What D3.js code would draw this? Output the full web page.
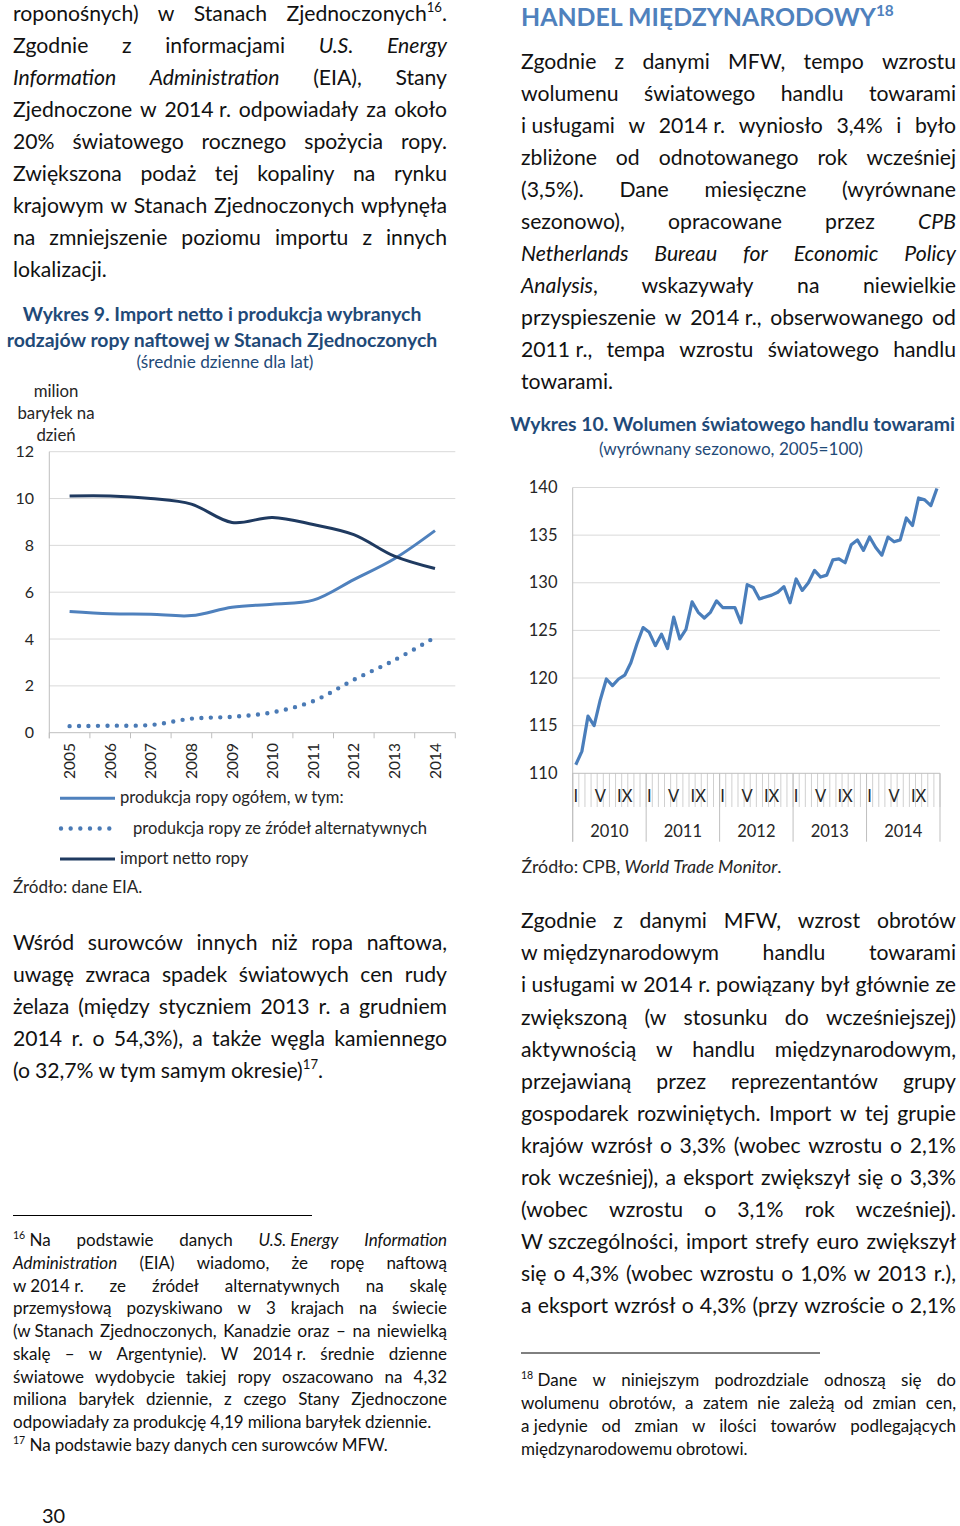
<!DOCTYPE html>
<html><head><meta charset="utf-8">
<script src="https://cdn.jsdelivr.net/npm/d3@7"></script>
<style>
body{margin:0;background:#fff}
svg{display:block}
text{font-family:Lato,"Open Sans",sans-serif}
</style></head><body>
<svg id="page" width="960" height="1526"></svg>
<script>
// ---------------- DATA ----------------
const oilYears = ["2005","2006","2007","2008","2009","2010","2011","2012","2013","2014"];
const oilProductionTotal = [5.18,5.08,5.06,5.00,5.36,5.49,5.66,6.54,7.43,8.63];
const oilProductionAlt   = [0.28,0.30,0.33,0.60,0.68,0.87,1.35,2.26,3.10,4.07];
const oilImportNet       = [10.11,10.11,10.00,9.76,8.98,9.19,8.89,8.46,7.54,7.01];
const oilTicks = [0,2,4,6,8,10,12];
const oilLegend = ["produkcja ropy ogółem, w tym:","produkcja ropy ze źródeł alternatywnych","import netto ropy"];

const tradeYears = ["2010","2011","2012","2013","2014"];
const tradeMonthLabels = ["I","V","IX"];
const tradeMonthLabelIdx = [0,4,8];
const trade2010 = [110.9,112.3,116.0,115.0,117.7,119.9,119.2,119.9,120.3,121.6,123.6,125.3];
const trade2011 = [124.8,123.4,124.6,123.1,126.4,124.1,125.1,128.0,126.9,126.3,126.9,128.1];
const trade2012 = [127.4,127.4,127.4,125.8,129.8,129.5,128.3,128.5,128.7,129.0,129.6,127.9];
const trade2013 = [130.4,129.2,130.0,131.3,130.6,130.8,132.4,132.5,132.1,134.0,134.5,133.4];
const trade2014 = [134.8,133.7,132.9,134.8,134.3,134.5,136.8,136.0,138.9,138.7,138.1,139.9];
const tradeTicks = [110,115,120,125,130,135,140];

// ---------------- TEXT ----------------
const paraL1 = [
 "roponośnych) w Stanach Zjednoczonych^16^.",
 "Zgodnie z informacjami *U.S.* *Energy*",
 "*Information* *Administration* (EIA), Stany",
 "Zjednoczone w 2014~r. odpowiadały za około",
 "20% światowego rocznego spożycia ropy.",
 "Zwiększona podaż tej kopaliny na rynku",
 "krajowym w Stanach Zjednoczonych wpłynęła",
 "na zmniejszenie poziomu importu z innych",
 "lokalizacji."
];
const paraL2 = [
 "Wśród surowców innych niż ropa naftowa,",
 "uwagę zwraca spadek światowych cen rudy",
 "żelaza (między styczniem 2013 r. a grudniem",
 "2014 r. o 54,3%), a także węgla kamiennego",
 "(o 32,7% w tym samym okresie)^17^."
];
const footL = [
 "^16^~Na podstawie danych *U.S.~Energy* *Information*",
 "*Administration* (EIA) wiadomo, że ropę naftową",
 "w~2014~r. ze źródeł alternatywnych na skalę",
 "przemysłową pozyskiwano w 3 krajach na świecie",
 "(w~Stanach Zjednoczonych, Kanadzie oraz – na niewielką",
 "skalę – w Argentynie). W 2014~r. średnie dzienne",
 "światowe wydobycie takiej ropy oszacowano na 4,32",
 "miliona baryłek dziennie, z czego Stany Zjednoczone",
 "odpowiadały za produkcję 4,19 miliona baryłek dziennie."
];
const footL17 = "^17^~Na podstawie bazy danych cen surowców MFW.";
const paraR1 = [
 "Zgodnie z danymi MFW, tempo wzrostu",
 "wolumenu światowego handlu towarami",
 "i~usługami w 2014~r. wyniosło 3,4% i było",
 "zbliżone od odnotowanego rok wcześniej",
 "(3,5%). Dane miesięczne (wyrównane",
 "sezonowo), opracowane przez *CPB*",
 "*Netherlands* *Bureau* *for* *Economic* *Policy*",
 "*Analysis*, wskazywały na niewielkie",
 "przyspieszenie w 2014~r., obserwowanego od",
 "2011~r., tempa wzrostu światowego handlu",
 "towarami."
];
const paraR2 = [
 "Zgodnie z danymi MFW, wzrost obrotów",
 "w~międzynarodowym handlu towarami",
 "i~usługami w 2014 r. powiązany był głównie ze",
 "zwiększoną (w stosunku do wcześniejszej)",
 "aktywnością w handlu międzynarodowym,",
 "przejawianą przez reprezentantów grupy",
 "gospodarek rozwiniętych. Import w tej grupie",
 "krajów wzrósł o 3,3% (wobec wzrostu o 2,1%",
 "rok wcześniej), a eksport zwiększył się o 3,3%",
 "(wobec wzrostu o 3,1% rok wcześniej).",
 "W~szczególności, import strefy euro zwiększył",
 "się o 4,3% (wobec wzrostu o 1,0% w 2013 r.),",
 "a eksport wzrósł o 4,3% (przy wzroście o 2,1%"
];
const footR = [
 "^18^~Dane w niniejszym podrozdziale odnoszą się do",
 "wolumenu obrotów, a zatem nie zależą od zmian cen,",
 "a~jedynie od zmian w ilości towarów podlegających",
 "międzynarodowemu obrotowi."
];

// ---------------- HELPERS ----------------
const svg = d3.select("#page");
const TXT = "#111";
function segs(token){
  const out=[]; let cur="", it=false, sup=false;
  for(const ch of token){
    if(ch==="*"||ch==="^"){ if(cur) out.push({t:cur,it,sup}); cur=""; if(ch==="*") it=!it; else sup=!sup; }
    else cur += (ch==="~" ? "\u00a0" : ch);
  }
  if(cur) out.push({t:cur,it,sup});
  return out;
}
function drawToken(g, token, y, size, fill, weight){
  const t = g.append("text").attr("y",y).attr("font-size",size).attr("fill",fill||TXT);
  if(weight) t.attr("font-weight",weight);
  let shifted=false;
  segs(token).forEach(s=>{
    const ts=t.append("tspan").text(s.t);
    if(s.it) ts.attr("font-style","italic");
    if(s.sup){ ts.attr("font-size",size*0.62); if(!shifted){ ts.attr("dy",-size*0.42); shifted=true; } }
    else if(shifted){ ts.attr("dy",size*0.42); shifted=false; }
  });
  return t;
}
function drawLine(g, line, x0, x1, y, size, justify, fill, weight){
  const toks=line.split(" ").filter(Boolean);
  const nodes=toks.map(tk=>drawToken(g,tk,y,size,fill,weight));
  const w=nodes.map(n=>n.node().getComputedTextLength());
  const total=d3.sum(w);
  let gap = (justify && toks.length>1) ? (x1-x0-total)/(toks.length-1) : size*0.23;
  let x=x0;
  nodes.forEach((n,i)=>{ n.attr("x",x); x+=w[i]+gap; });
}
function drawPara(g, lines, x0, x1, y0, pitch, size, lastLeft){
  lines.forEach((l,i)=>drawLine(g,l,x0,x1,y0+i*pitch,size,!(lastLeft && i===lines.length-1)));
}
function centered(g, str, cx, y, size, fill, weight, targetW){
  const t=g.append("text").attr("x",cx).attr("y",y).attr("text-anchor","middle")
    .attr("font-size",size).attr("fill",fill).text(str);
  if(weight) t.attr("font-weight",weight);
  if(targetW){ const w=t.node().getComputedTextLength(); t.attr("font-size", size*targetW/w); }
  return t;
}

const G = svg.append("g");
const BODY = 21.2, FOOT = 17.0;

// ---------------- LEFT COLUMN TEXT ----------------
drawPara(G, paraL1, 13, 447, 21, 32, BODY, true);
drawPara(G, paraL2, 13, 447, 949.5, 32, BODY, true);
G.append("line").attr("x1",13).attr("x2",312).attr("y1",1215.5).attr("y2",1215.5).attr("stroke","#000").attr("stroke-width",1);
drawPara(G, footL, 13, 447, 1246, 22.75, FOOT, true);
drawLine(G, footL17, 13, 447, 1246+9*22.75, FOOT, false);
G.append("text").attr("x",42).attr("y",1523).attr("font-size",20).attr("fill",TXT).text("30");

// ---------------- RIGHT COLUMN TEXT ----------------
(function(){
  const h = drawToken(G, "HANDEL~MIĘDZYNARODOWY^18^", 26, 25, "#4F81BD", "bold");
  h.attr("x",521);
  const w=h.node().getComputedTextLength();
  h.attr("font-size", 25*373/w);
  h.selectAll("tspan").filter(function(){return d3.select(this).attr("font-size");}).attr("font-size", 25*373/w*0.62);
})();
drawPara(G, paraR1, 521, 956, 68.5, 32.05, BODY, true);
drawPara(G, paraR2, 521, 956, 928.3, 32.08, BODY, false);
G.append("line").attr("x1",521).attr("x2",820).attr("y1",1353).attr("y2",1353).attr("stroke","#000").attr("stroke-width",1);
drawPara(G, footR, 521, 956, 1386, 23, FOOT, true);

// ---------------- CHART 9: OIL ----------------
const TITLE = "#1F4A78", AX = "#262626", GRID = "#D9D9D9", AXL = "#BFBFBF";
centered(G, "Wykres 9. Import netto i produkcja wybranych", 222, 320.7, 18.5, TITLE, "bold", 399);
centered(G, "rodzajów ropy naftowej w Stanach Zjednoczonych", 222, 346.7, 18.5, TITLE, "bold", 431);
centered(G, "(średnie dzienne dla lat)", 225, 368.3, 16, TITLE, null, 177);
["milion","baryłek na","dzień"].forEach((s,i)=>centered(G, s, 56, 396.7+i*22, 16.8, AX));

const oilG = G.append("g");
const ox = d3.scaleBand().domain(oilYears).range([49.3,455.3]).padding(0);
const oy = d3.scaleLinear().domain([0,12]).range([732.7,451.7]);
const ocx = d => ox(d)+ox.bandwidth()/2;
oilG.selectAll("line.grid").data(oilTicks.filter(t=>t>0)).join("line")
  .attr("x1",49.3).attr("x2",455.3).attr("y1",d=>oy(d)).attr("y2",d=>oy(d))
  .attr("stroke",GRID).attr("stroke-width",1);
oilG.selectAll("text.yt").data(oilTicks).join("text")
  .attr("x",34).attr("y",d=>oy(d)+5.5).attr("text-anchor","end").attr("font-size",16).attr("fill",AX).text(d=>d);
oilG.append("line").attr("x1",49.3).attr("x2",49.3).attr("y1",451.7).attr("y2",738.3).attr("stroke",AXL);
oilG.append("line").attr("x1",49.3).attr("x2",455.3).attr("y1",732.7).attr("y2",732.7).attr("stroke",AXL);
oilG.selectAll("line.xt").data(oilYears.map(d=>ox(d)).concat([455.3])).join("line")
  .attr("x1",d=>d).attr("x2",d=>d).attr("y1",732.7).attr("y2",738.3).attr("stroke",AXL);
oilG.selectAll("text.xl").data(oilYears).join("text")
  .attr("transform",d=>`translate(${ocx(d)+5.5},743) rotate(-90)`)
  .attr("text-anchor","end").attr("font-size",15.5).attr("fill",AX).text(d=>d);

const oline = d3.line().x((d,i)=>ocx(oilYears[i])).y(d=>oy(d)).curve(d3.curveCatmullRom.alpha(0.5));
const C_PROD="#4F81BD", C_ALT="#4A7AB5", C_IMP="#1F3A60";
oilG.append("path").attr("d",oline(oilProductionAlt)).attr("fill","none").attr("stroke",C_ALT)
  .attr("stroke-width",4.4).attr("stroke-linecap","round").attr("stroke-dasharray","0 9.45");
oilG.append("path").attr("d",oline(oilProductionTotal)).attr("fill","none").attr("stroke",C_PROD).attr("stroke-width",3);
oilG.append("path").attr("d",oline(oilImportNet)).attr("fill","none").attr("stroke",C_IMP).attr("stroke-width",3);

// legend
const leg = G.append("g");
const legY = [798.3, 828.5, 859];
const legStyle = [
  {c:C_PROD, dash:null, x2:115, tx:120},
  {c:C_ALT, dash:"0 9.66", x2:109.5, tx:133},
  {c:C_IMP, dash:null, x2:115, tx:120}
];
oilLegend.forEach((s,i)=>{
  const st=legStyle[i];
  const l=leg.append("line").attr("x1",st.dash?61:60).attr("x2",st.x2).attr("y1",legY[i]).attr("y2",legY[i])
    .attr("stroke",st.c).attr("stroke-width",st.dash?4.4:3);
  if(st.dash) l.attr("stroke-dasharray",st.dash).attr("stroke-linecap","round");
  leg.append("text").attr("x",st.tx).attr("y",legY[i]+5).attr("font-size",16.6).attr("fill",AX).text(s);
});
G.append("text").attr("x",13).attr("y",893).attr("font-size",17).attr("fill",AX).text("Źródło: dane EIA.");

// ---------------- CHART 10: TRADE ----------------
centered(G, "Wykres 10. Wolumen światowego handlu towarami", 732.5, 430.7, 18.5, TITLE, "bold", 445);
centered(G, "(wyrównany sezonowo, 2005=100)", 731, 455, 16, TITLE, null, 264);
const tradeVolume = trade2010.concat(trade2011, trade2012, trade2013, trade2014);
const months = d3.range(tradeVolume.length);
const tG = G.append("g");
const tx = d3.scaleBand().domain(months).range([572.7,940]).padding(0);
const ty = d3.scaleLinear().domain([110,140]).range([773.3,487.5]);
const tcx = i => tx(i)+tx.bandwidth()/2;
tG.selectAll("line.grid").data(tradeTicks.filter(t=>t>110)).join("line")
  .attr("x1",572.7).attr("x2",940).attr("y1",d=>ty(d)).attr("y2",d=>ty(d)).attr("stroke",GRID);
tG.selectAll("text.yt").data(tradeTicks).join("text")
  .attr("x",557.5).attr("y",d=>ty(d)+5.5).attr("text-anchor","end").attr("font-size",16.5).attr("fill",AX).text(d=>d);
tG.selectAll("line.mt").data(months.map(i=>tx(i)).concat([940])).join("line")
  .attr("x1",d=>d).attr("x2",d=>d).attr("y1",773.3).attr("y2",807).attr("stroke","#D0D0D0");
tG.selectAll("line.yt").data(tradeYears.map((y,i)=>tx(i*12)).concat([940])).join("line")
  .attr("x1",d=>d).attr("x2",d=>d).attr("y1",773.3).attr("y2",841.7).attr("stroke",AXL);
tG.append("line").attr("x1",572.7).attr("x2",572.7).attr("y1",487.5).attr("y2",841.7).attr("stroke",AXL);
tG.append("line").attr("x1",572.7).attr("x2",940).attr("y1",773.3).attr("y2",773.3).attr("stroke",AXL);
const mlab=[];
tradeYears.forEach((y,yi)=>tradeMonthLabels.forEach((m,mi)=>mlab.push({m, i:yi*12+tradeMonthLabelIdx[mi]})));
tG.selectAll("text.ml").data(mlab).join("text")
  .attr("x",d=>tcx(d.i)).attr("y",801.7).attr("text-anchor","middle").attr("font-size",16.5).attr("fill",AX).text(d=>d.m);
tG.selectAll("text.yl").data(tradeYears).join("text")
  .attr("x",(d,i)=>tx(i*12)+tx.bandwidth()*6).attr("y",836.7).attr("text-anchor","middle").attr("font-size",16.5).attr("fill",AX).text(d=>d);
const tline=d3.line().x((d,i)=>tcx(i)).y(d=>ty(d));
tG.append("path").attr("d",tline(tradeVolume)).attr("fill","none").attr("stroke","#4A7EBB")
  .attr("stroke-width",3.2).attr("stroke-linejoin","round");
drawLine(G, "Źródło: CPB, *World* *Trade* *Monitor*.", 521.5, 956, 873.3, 17.8, false, AX);
</script>
</body></html>
